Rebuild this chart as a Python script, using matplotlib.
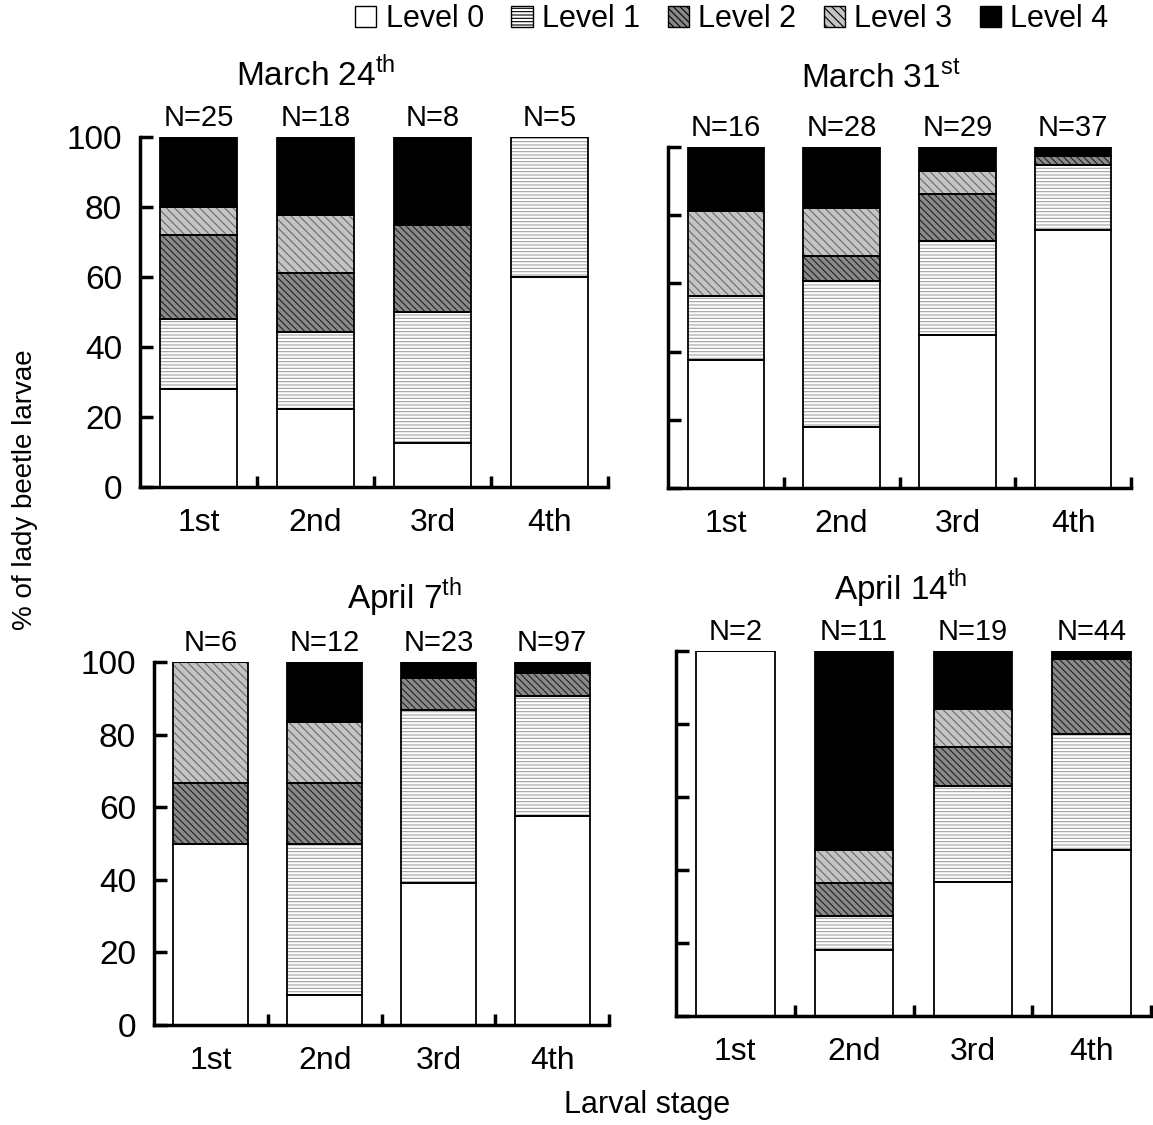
import numpy as np
import matplotlib
matplotlib.use('Agg')
import matplotlib.pyplot as plt
from matplotlib.patches import Patch

plt.rcParams['font.family'] = ['Liberation Sans', 'DejaVu Sans']
plt.rcParams['mathtext.fontset'] = 'custom'
plt.rcParams['mathtext.rm'] = 'Liberation Sans'
plt.rcParams['hatch.linewidth'] = 0.8

stages = ['1st', '2nd', '3rd', '4th']
levels = ['Level 0', 'Level 1', 'Level 2', 'Level 3', 'Level 4']

# % of larvae per level (rows = level 0..4, cols = larval stage)
mar24 = [[28, 22.2, 12.5, 60],
         [20, 22.2, 37.5, 40],
         [24, 16.7, 25, 0],
         [8, 16.7, 0, 0],
         [20, 22.2, 25, 0]]
mar24_n = [25, 18, 8, 5]

mar31 = [[37.5, 17.9, 44.8, 75.7],
         [18.75, 42.9, 27.6, 18.9],
         [0, 7.1, 13.8, 2.7],
         [25, 14.3, 6.9, 0],
         [18.75, 17.9, 6.9, 2.7]]
mar31_n = [16, 28, 29, 37]

apr7 = [[50, 8.3, 39.1, 57.7],
        [0, 41.7, 47.8, 33.0],
        [16.7, 16.7, 8.7, 6.2],
        [33.3, 16.7, 0, 0],
        [0, 16.7, 4.4, 3.1]]
apr7_n = [6, 12, 23, 97]

apr14 = [[100, 18.2, 36.8, 45.5],
         [0, 9.1, 26.3, 31.8],
         [0, 9.1, 10.5, 20.4],
         [0, 9.1, 10.5, 0],
         [0, 54.5, 15.8, 2.3]]
apr14_n = [2, 11, 19, 44]

# face colour, hatch, hatch colour per level
faces = ['white', 'white', '#8a8a8a', '#c4c4c4', 'black']
hatches = [None, '-----', '\\\\\\\\\\', '\\\\\\\\', None]
hcols = ['black', '#a0a0a0', '#222222', '#6a6a6a', 'black']

panels = [
    # data, n, title, axes rect, title x (data), title y (px), show ylabels
    (mar24, mar24_n, 'March 24$^{\\mathrm{th}}$', [140/1153, 1-487/1125, 468/1153, 350/1125], 1.0, 75, True),
    (mar31, mar31_n, 'March 31$^{\\mathrm{st}}$', [668/1153, 1-488/1125, 463/1153, 341/1125], 1.34, 77, False),
    (apr7, apr7_n, 'April 7$^{\\mathrm{th}}$', [154/1153, 1-1025/1125, 455/1153, 363/1125], 1.7, 597, True),
    (apr14, apr14_n, 'April 14$^{\\mathrm{th}}$', [676/1153, 1-1016/1125, 475/1153, 365/1125], 1.39, 588, False),
]

fig = plt.figure(figsize=(11.53, 11.25), dpi=100)
x = np.arange(len(stages))

for data, ns, title, rect, tx, ty, ylab in panels:
    ax = fig.add_axes(rect)
    bottom = np.zeros(len(stages))
    for i in range(5):
        vals = np.array(data[i], dtype=float)
        ax.bar(x, vals, 0.66, bottom=bottom, color=faces[i], hatch=hatches[i],
               edgecolor=hcols[i], linewidth=0, zorder=2)
        ax.bar(x, vals, 0.66, bottom=bottom, fill=False, edgecolor='black',
               linewidth=1.3, zorder=3)
        bottom += vals
    for xi, n in zip(x, ns):
        ax.annotate(f'N={n}', (xi, 100), xytext=(0, 14), textcoords='offset points',
                    ha='center', va='center', fontsize=21)
    ax.set_xlim(-0.5, 3.5)
    ax.set_ylim(0, 100)
    ax.spines['top'].set_visible(False)
    ax.spines['right'].set_visible(False)
    ax.spines['left'].set_linewidth(2.5)
    ax.spines['bottom'].set_linewidth(2.5)
    ax.set_xticks([0.5, 1.5, 2.5, 3.5])
    ax.set_xticklabels([])
    ax.set_xticks(x, minor=True)
    ax.set_xticklabels(stages, minor=True, fontsize=23)
    ax.tick_params(axis='x', which='major', direction='in', length=8, width=2.5)
    ax.tick_params(axis='x', which='minor', length=0, pad=15)
    ax.set_yticks([0, 20, 40, 60, 80, 100])
    ax.tick_params(axis='y', direction='in', length=9, width=2.5, labelsize=24,
                   pad=13, labelleft=ylab)
    # title sits above the N labels
    y_ax = fig.transFigure.inverted().transform((0, 1125 - ty))[1]
    fig.text(rect[0] + (tx + 0.5) / 4 * rect[2], y_ax, title, ha='center', va='center', fontsize=24)

handles = [Patch(facecolor=faces[i], hatch=hatches[i], edgecolor='black', linewidth=1)
           for i in range(5)]
fig.legend(handles, levels, loc='center right', bbox_to_anchor=(0.972, 1 - 19/1125),
           ncol=5, frameon=False, fontsize=22, handlelength=0.7, handleheight=0.7,
           handletextpad=0.3, columnspacing=0.9, borderaxespad=0)

fig.text(25/1153, 1 - 490/1125, '% of lady beetle larvae', rotation=90,
         ha='center', va='center', fontsize=20)
fig.text(647/1153, 1 - 1105/1125, 'Larval stage', ha='center', va='center', fontsize=22)

fig.savefig('out.png', dpi=100)
